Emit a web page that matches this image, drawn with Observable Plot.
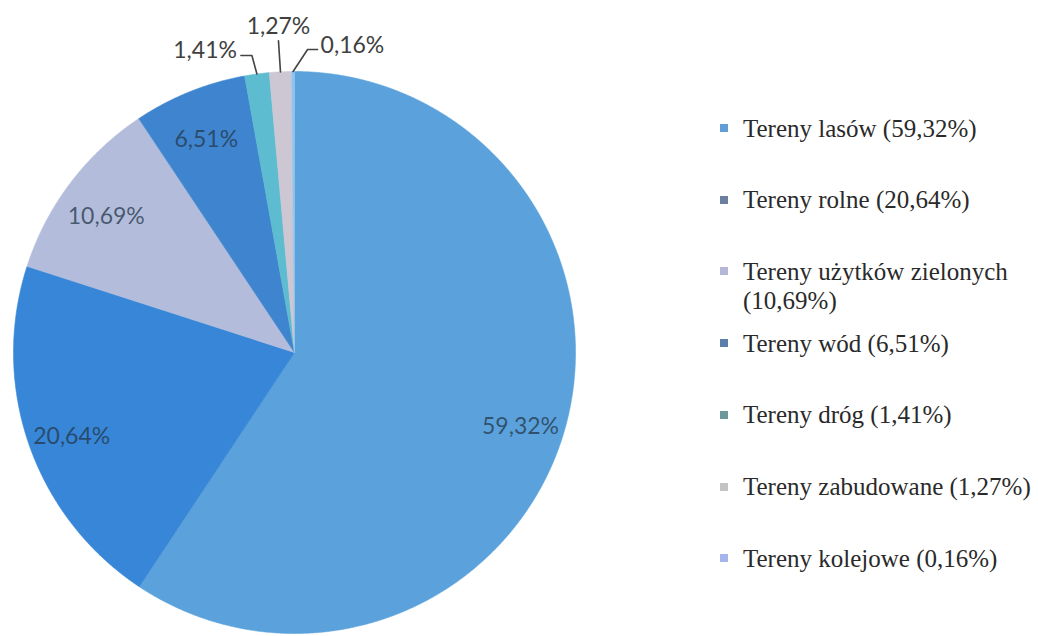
<!DOCTYPE html>
<html><head><meta charset="utf-8">
<script src="https://cdn.jsdelivr.net/npm/d3@7"></script>
<script src="https://cdn.jsdelivr.net/npm/@observablehq/plot@0.6"></script>
<style>
body{margin:0;background:#fff;}
#wrap{position:relative;width:1038px;height:636px;overflow:hidden;background:#fff;}
#wrap > svg{position:absolute;left:0;top:0;}
#legend{position:absolute;left:720px;top:0;font-family:"Liberation Serif","Times New Roman",serif;font-size:25px;color:#2a2a2a;}
.item{position:absolute;left:23px;white-space:pre;line-height:29px;}
.sw{position:absolute;left:0;width:8px;height:8px;}
</style></head><body><div id="wrap"></div>
<script>
// ---- data ----
const categories = ["Tereny lasów","Tereny rolne","Tereny użytków zielonych","Tereny wód","Tereny dróg","Tereny zabudowane","Tereny kolejowe"];
const shares = [59.32, 20.64, 10.69, 6.51, 1.41, 1.27, 0.16];
const shareLabels = ["59,32%","20,64%","10,69%","6,51%","1,41%","1,27%","0,16%"];
const legendLabels = ["Tereny lasów (59,32%)","Tereny rolne (20,64%)","Tereny użytków zielonych\n(10,69%)","Tereny wód (6,51%)","Tereny dróg (1,41%)","Tereny zabudowane (1,27%)","Tereny kolejowe (0,16%)"];
const insideIdx = [0,1,2,3];
const calloutIdx = [4,5,6];

// ---- styles / layout ----
const sliceColors = ["#5ba2dc","#3786d8","#b3bddb","#3f84cf","#5dbccf","#cdc7d4","#90c4ef"];
const legendColors = ["#5f9fd6","#6b7fa3","#b6b6d6","#5b7eab","#6e9799","#c4c4c4","#a6b6ec"];
const cx = 294, cy = 352, R = 281;
const labelRadius = 0.84;
// callout offsets in px relative to the slice's arc mid-point: [elbow, end, label]
const calloutOffsets = [
  {elbow:[-5,-18.5], end:[-16,-18.5], label:[-20,-23.5], anchor:"end"},
  {elbow:[-2,-31], end:[-2,-31], label:[-2,-45], anchor:"middle"},
  {elbow:[14.5,-22], end:[24.5,-22], label:[27.5,-26], anchor:"start"}
];
const legendTop = 128, legendStep = 71.7;

// ---- geometry ----
const total = d3.sum(shares);
let cum = 0;
const slices = shares.map((v,i) => {
  const a0 = cum / total * 2 * Math.PI; cum += v;
  const a1 = cum / total * 2 * Math.PI;
  return {name: categories[i], value: v, a0, a1, mid: (a0+a1)/2, color: sliceColors[i], label: shareLabels[i]};
});
const wedgePts = [];
for (const s of slices) {
  const n = Math.max(2, Math.ceil((s.a1 - s.a0) / 0.004));
  wedgePts.push({name:s.name, color:s.color, x:0, y:0});
  for (let k = 0; k <= n; k++) {
    const a = s.a0 + (s.a1 - s.a0) * k / n;
    wedgePts.push({name:s.name, color:s.color, x:Math.sin(a), y:Math.cos(a)});
  }
  wedgePts.push({name:s.name, color:s.color, x:0, y:0});
}
const inside = insideIdx.map(i => ({label: slices[i].label, x: labelRadius*Math.sin(slices[i].mid), y: labelRadius*Math.cos(slices[i].mid)}));
const leaderPts = [], calloutText = [];
calloutIdx.forEach((i, j) => {
  const s = slices[i], o = calloutOffsets[j];
  const x0 = Math.sin(s.mid), y0 = Math.cos(s.mid);
  const P = ([dx,dy]) => ({x: x0 + dx/R, y: y0 - dy/R});
  leaderPts.push({id:j, ...P([0,0])}, {id:j, ...P(o.elbow)}, {id:j, ...P(o.end)});
  calloutText.push({label: s.label, anchor: o.anchor, ...P(o.label)});
});

const chart = Plot.plot({
  width: 1038, height: 636, margin: 0,
  x: {domain: [-1, 1], range: [cx - R, cx + R], axis: null},
  y: {domain: [-1, 1], range: [cy + R, cy - R], axis: null},
  color: {type: "identity"},
  style: {background: "transparent"},
  marks: [
    Plot.line(wedgePts, {x: "x", y: "y", z: "name", fill: "color", stroke: "color", strokeWidth: 0.6, curve: "linear"}),
    Plot.text(inside, {x: "x", y: "y", dy: 6, text: "label", fill: "#24384a", fillOpacity: 0.75, fontSize: 23, fontFamily: "Lato, 'Open Sans', sans-serif", textAnchor: "middle"}),
    Plot.line(leaderPts, {x: "x", y: "y", z: "id", stroke: "#444", strokeWidth: 1.6}),
    ...["start","middle","end"].map(a => Plot.text(calloutText.filter(d => d.anchor === a), {x: "x", y: "y", text: "label", fill: "#404040", fontSize: 23, fontFamily: "Lato, 'Open Sans', sans-serif", textAnchor: a}))
  ]
});
const wrap = document.getElementById("wrap");
wrap.appendChild(chart);

// legend
const legend = document.createElement("div");
legend.id = "legend";
legendLabels.forEach((t, i) => {
  const c = legendTop + i * legendStep;
  const sw = document.createElement("div");
  sw.className = "sw"; sw.style.top = (c - 4) + "px"; sw.style.background = legendColors[i];
  const it = document.createElement("div");
  it.className = "item"; it.style.top = (c - 14.5) + "px"; it.textContent = t;
  legend.appendChild(sw); legend.appendChild(it);
});
wrap.appendChild(legend);
</script>
</body></html>
